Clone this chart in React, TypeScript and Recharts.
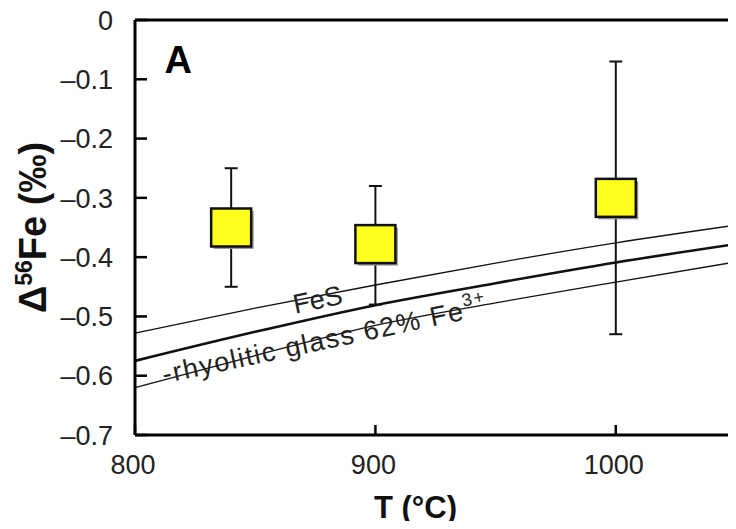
import { ComposedChart, Line, Scatter, XAxis, YAxis, ErrorBar, ReferenceLine, ReferenceDot } from "recharts";

// model curves
const curveTemps = [800, 850, 900, 950, 1000, 1050];
const fesCurve = [-0.528, -0.486, -0.447, -0.41, -0.376, -0.346];
const glassCurve = [-0.575, -0.526, -0.481, -0.444, -0.409, -0.378];
const lowerCurve = [-0.62, -0.566, -0.515, -0.477, -0.442, -0.408];

// measured samples
const sampleTemps = [840, 900, 1000];
const sampleDelta = [-0.35, -0.378, -0.3];
const errTop = [-0.25, -0.28, -0.07];
const errBottom = [-0.45, -0.48, -0.53];

const xTicks = [800, 900, 1000];
const yTicks = [0, -0.1, -0.2, -0.3, -0.4, -0.5, -0.6, -0.7];

const curveData = curveTemps.map((t, i) => ({
    t,
    fes: fesCurve[i],
    glass: glassCurve[i],
    lower: lowerCurve[i],
}));

const sampleData = sampleTemps.map((t, i) => ({
    t,
    d: sampleDelta[i],
    err: [sampleDelta[i] - errBottom[i], errTop[i] - sampleDelta[i]],
}));

const FONT = "'Liberation Sans', Arial, Helvetica, sans-serif";
const TICK_FONT = 27;

const SquareMark = (props: any) => {
    const { cx, cy } = props;
    if (cx == null || cy == null) return null;
    const w = 40;
    const h = 38;
    return (
        <g>
            <rect x={cx - w / 2 + 2.5} y={cy - h / 2 + 2.5} width={w} height={h} fill="#999" />
            <rect x={cx - w / 2} y={cy - h / 2} width={w} height={h} fill="#ffff1e" stroke="#111" strokeWidth={2.5} />
        </g>
    );
};

// ticks point into the plot
const YTick = (props: any) => {
    const { x, y, payload } = props;
    const axisX = x + 22;
    const v = payload.value as number;
    return (
        <g>
            <line x1={axisX} x2={axisX + 12} y1={y} y2={y} stroke="#000" strokeWidth={2.5} />
            <text x={x} y={y} dy="0.36em" textAnchor="end" fontFamily={FONT} fontSize={TICK_FONT} fill="#222">
                {v === 0 ? "0" : v.toFixed(1).replace("-", "–")}
            </text>
        </g>
    );
};

const XTick = (props: any) => {
    const { x, y, payload } = props;
    const axisY = y - 20;
    return (
        <g>
            <line x1={x} x2={x} y1={axisY} y2={axisY - 10} stroke="#000" strokeWidth={2.5} />
            <text x={x - 2} y={y} dy="0.71em" textAnchor="middle" fontFamily={FONT} fontSize={TICK_FONT} fill="#222">
                {payload.value}
            </text>
        </g>
    );
};

const XTitle = (props: any) => {
    const vb = props.viewBox;
    const x = vb.x + vb.width / 2 - 20;
    const y = vb.y + 83;
    return (
        <text x={x} y={y} textAnchor="middle" fontFamily={FONT} fontSize={31} fontWeight="bold" fill="#111">
            T (°C)
        </text>
    );
};

const YTitle = (props: any) => {
    const vb = props.viewBox;
    const x = vb.x + 46;
    const y = vb.y + vb.height / 2;
    return (
        <text
            x={x}
            y={y}
            transform={`rotate(-90 ${x} ${y})`}
            textAnchor="middle"
            fontFamily={FONT}
            fontSize={38}
            fontWeight="bold"
            fill="#111"
        >
            Δ<tspan dy={-14} fontSize={23}>56</tspan>
            <tspan dy={14}>Fe (‰)</tspan>
        </text>
    );
};

const rotatedLabel = (text: React.ReactNode, angle: number, spacing = 0) => (props: any) => {
    const vb = props.viewBox || {};
    const x = vb.x + (vb.width || 0) / 2;
    const y = vb.y + (vb.height || 0) / 2;
    return (
        <text
            x={x}
            y={y}
            transform={`rotate(${angle} ${x} ${y})`}
            textAnchor="middle"
            dominantBaseline="central"
            fontFamily={FONT}
            fontSize={27}
            letterSpacing={spacing}
            fill="#222"
        >
            {text}
        </text>
    );
};

export default function App() {
    return (
        <div style={{ margin: -8, width: 736, height: 529, background: "#fff" }}>
            <ComposedChart width={736} height={529} data={curveData} margin={{ top: 20, right: 0, bottom: 34, left: 0 }}>
                <XAxis
                    dataKey="t"
                    type="number"
                    domain={[800, 1050]}
                    ticks={xTicks}
                    height={60}
                    axisLine={{ stroke: "#000", strokeWidth: 3 }}
                    tickLine={false}
                    tickSize={0}
                    tickMargin={20}
                    tick={XTick}
                    label={XTitle}
                />
                <YAxis
                    type="number"
                    domain={[-0.7, 0]}
                    ticks={yTicks}
                    width={135}
                    axisLine={{ stroke: "#000", strokeWidth: 3 }}
                    tickLine={false}
                    tickSize={0}
                    tickMargin={22}
                    tick={YTick}
                    label={YTitle}
                />
                <ReferenceLine y={0} stroke="#000" strokeWidth={3} />
                <Line dataKey="fes" type="monotone" stroke="#111" strokeWidth={1.3} dot={false} isAnimationActive={false} />
                <Line dataKey="glass" type="monotone" stroke="#111" strokeWidth={2.6} dot={false} isAnimationActive={false} />
                <Line dataKey="lower" type="monotone" stroke="#111" strokeWidth={1.3} dot={false} isAnimationActive={false} />
                <ReferenceDot x={876} y={-0.472} r={0} stroke="none" fill="none" label={rotatedLabel("FeS", -12)} />
                <ReferenceDot
                    x={879}
                    y={-0.54}
                    r={0}
                    stroke="none"
                    fill="none"
                    label={rotatedLabel(
                        <>
                            -rhyolitic glass 62% Fe<tspan dy={-10} fontSize={18}>3+</tspan>
                        </>,
                        -12,
                        1.6
                    )}
                />
                <Scatter data={sampleData} dataKey="d" shape={SquareMark} isAnimationActive={false}>
                    <ErrorBar dataKey="err" direction="y" width={6.5} stroke="#111" strokeWidth={2} />
                </Scatter>
                <ReferenceDot
                    x={818}
                    y={-0.066}
                    r={0}
                    stroke="none"
                    fill="none"
                    label={{ value: "A", position: "center", style: { fill: "#000", fontSize: 38, fontWeight: "bold", fontFamily: FONT } }}
                />
            </ComposedChart>
        </div>
    );
}
